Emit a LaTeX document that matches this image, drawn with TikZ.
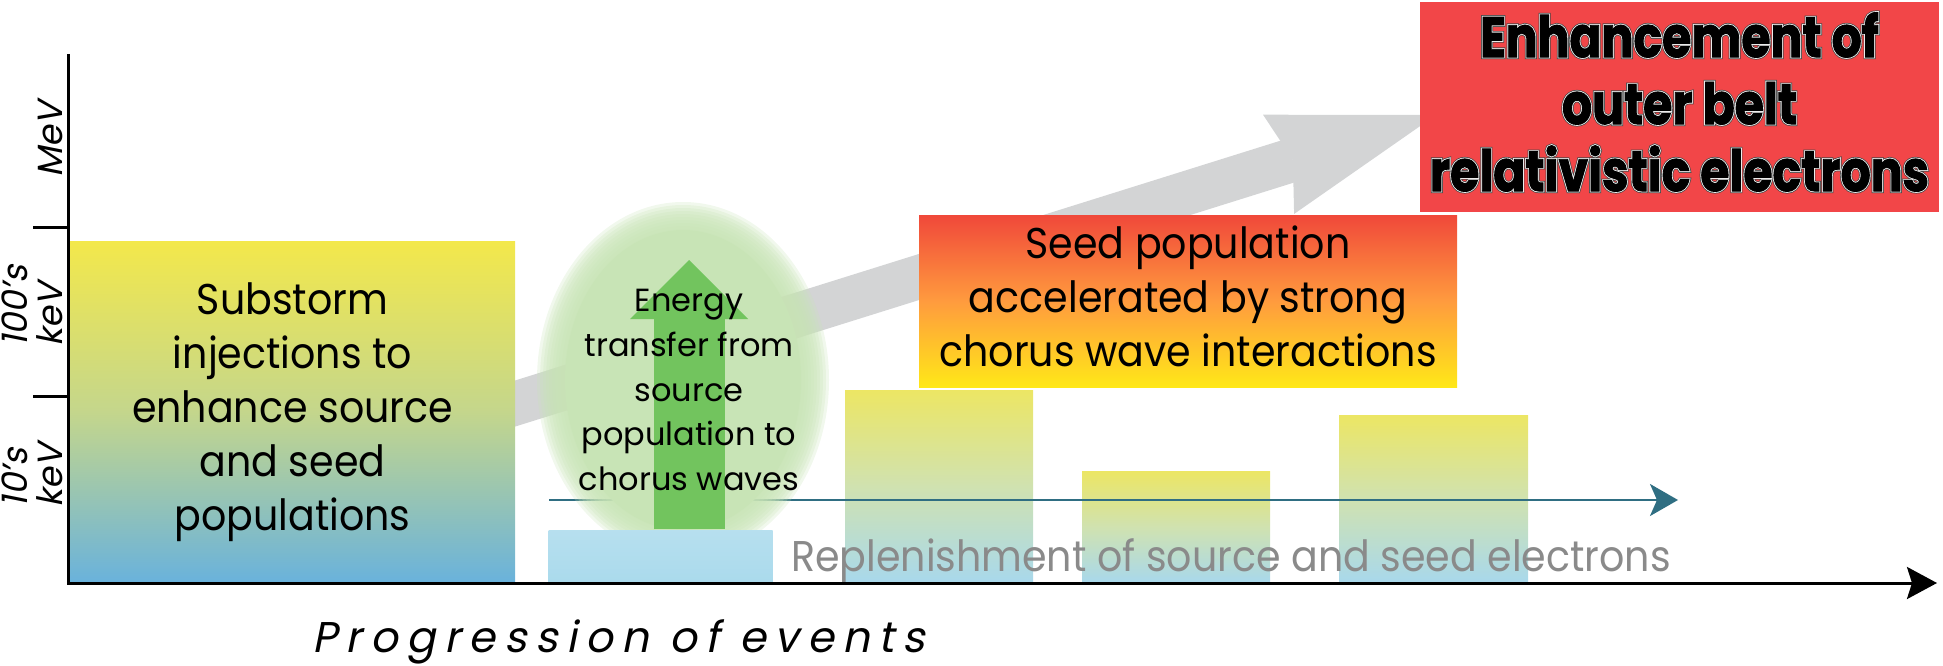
\documentclass[tikz,border=0pt]{standalone}
\usepackage{fontspec}
\setmainfont{Poppins}[FakeStretch=0.92]
\newfontfamily\energyfont{Poppins}
\newfontfamily\oblfont{Poppins}[FakeSlant=0.2]
\newfontfamily\progfont{Poppins}[FakeSlant=0.2,LetterSpace=20]
\newfontfamily\hvyfont{Poppins}[FakeStretch=0.83,FakeBold=1.5]
\newfontfamily\hvyhalo{Poppins}[FakeStretch=0.83,FakeBold=7]
\newfontfamily\hvyrim{Poppins}[FakeStretch=0.83,FakeBold=4.5]
\usetikzlibrary{arrows.meta}

\definecolor{boxyellow}{RGB}{243,232,75}
\definecolor{boxmid}{RGB}{196,214,140}
\definecolor{boxblue}{RGB}{105,178,220}
\definecolor{baryellow}{RGB}{236,230,100}
\definecolor{barmid}{RGB}{208,226,176}
\definecolor{barblue}{RGB}{168,216,236}
\definecolor{lightblue}{RGB}{170,218,236}
\definecolor{arrowgray}{RGB}{211,212,213}
\definecolor{glowgreen}{RGB}{200,228,182}
\definecolor{arrowgreen}{RGB}{114,196,94}
\definecolor{tealline}{RGB}{47,110,130}
\definecolor{seedred}{RGB}{240,72,58}
\definecolor{seedorange}{RGB}{255,155,62}
\definecolor{seedyellow}{RGB}{255,232,24}
\definecolor{enhred}{RGB}{242,70,72}
\definecolor{replgray}{RGB}{138,138,138}
\definecolor{halogray}{RGB}{70,70,70}

\tikzset{
  mainfont/.style={font={\fontsize{43}{54}\selectfont}},
  leftbox/.style={inner sep=0pt, minimum width=445pt, minimum height=342pt,
    top color=boxyellow, bottom color=boxblue, middle color=boxmid, align=center, mainfont},
  barbox/.style={inner sep=0pt, top color=baryellow, bottom color=barblue, middle color=barmid},
  bluebox/.style={inner sep=0pt, top color=lightblue!85!white, bottom color=lightblue},
  seedbox/.style={inner sep=0pt, minimum width=538pt, minimum height=172pt,
    top color=seedred, bottom color=seedyellow, middle color=seedorange},
  enhbox/.style={inner sep=0pt, minimum width=519pt, minimum height=210pt, fill=enhred},
  enhtext/.style={align=center, inner sep=0pt},
  glowlayer/.style={fill=glowgreen, fill opacity=0.25},
  glowsolid/.style={fill=glowgreen},
  grayarrow/.style={draw=arrowgray, line width=44pt,
    -{Stealth[length=165pt,width=104pt,inset=15pt,line width=0pt,fill=arrowgray]}},
  greenarrow/.style={draw=arrowgreen, line width=71pt,
    -{Triangle[length=59pt,width=118pt,line width=0pt,fill=arrowgreen]}},
  tealarrow/.style={draw=tealline, line width=2.5pt,
    -{Stealth[length=28pt,width=32pt,inset=7pt]}},
  axisline/.style={draw=black, line width=3pt, line join=miter,
    -{Stealth[length=30pt,width=32pt,inset=5pt]}},
  tickline/.style={draw=black, line width=3pt},
  axislabel/.style={rotate=90, align=left, inner sep=0pt,
    font={\oblfont\fontsize{35}{35}\selectfont}},
}

\begin{document}
\begin{tikzpicture}[x=1pt,y=-1pt]
\useasboundingbox (0,0) rectangle (1943,666);

% big gray arrow (behind boxes)
\coordinate (gtail) at (490,411.4);
\coordinate (gtip) at (1436,115);
\draw[grayarrow] (gtail) -- (gtip);

% substorm box
\node[leftbox] (inj) at (292.5,412) {Substorm\\injections to\\enhance source\\and seed\\populations};

% bars
\node[barbox, minimum width=188pt, minimum height=193pt] (bar1) at (939,486.5) {};
\node[barbox, minimum width=188pt, minimum height=112pt] (bar2) at (1176,527) {};
\node[barbox, minimum width=189pt, minimum height=168pt] (bar3) at (1433.5,499) {};

% teal replenishment arrow
\coordinate (tstart) at (549,500);
\coordinate (tend) at (1678,500);
\draw[tealarrow] (tstart) -- (tend);

% green glow (opaque core, soft edge from stacked translucent ellipses)
\coordinate (glowc) at (683,380);
\foreach \k in {0,...,9} {
  \fill[glowlayer] (glowc) ellipse [x radius={146-3*\k}, y radius={178-3*\k}];
}
\fill[glowsolid] (glowc) ellipse [x radius=118, y radius=150];

% small source box
\node[bluebox, minimum width=224pt, minimum height=53pt] (src) at (660.5,556.5) {};

% green up arrow
\coordinate (gbot) at (689,529);
\coordinate (gtop) at (689,260);
\draw[greenarrow] (gbot) -- (gtop);

\node[align=center, inner sep=0pt, font={\energyfont\fontsize{32}{44.7}\selectfont}] (energy) at (689,390)
  {Energy\\transfer from\\source\\population to\\chorus waves};

% seed population box
\node[seedbox] (seed) at (1188,301) {};
\node[align=center, inner sep=0pt, mainfont] (seedtext) at ([yshift=5pt]seed.center)
  {Seed population\\accelerated by strong\\chorus wave interactions};

% enhancement box
\node[enhbox] (enh) at (1679.5,107) {};
\node[enhtext, text=halogray, font={\hvyhalo\bfseries\fontsize{57}{67}\selectfont}] (enhh) at ([yshift=5pt]enh.center)
  {Enhancement of\\outer belt\\relativistic electrons};
\node[enhtext, text=white!85!gray, font={\hvyrim\bfseries\fontsize{57}{67}\selectfont}] (enhr) at ([yshift=5pt]enh.center)
  {Enhancement of\\outer belt\\relativistic electrons};
\node[enhtext, text=black, font={\hvyfont\bfseries\fontsize{57}{67}\selectfont}] (enht) at ([yshift=5pt]enh.center)
  {Enhancement of\\outer belt\\relativistic electrons};

% replenishment label
\node[anchor=base, inner sep=0pt, text=replgray, font={\fontsize{43}{43}\selectfont}] (repl) at (1231,571)
  {Replenishment of source and seed electrons};

% axes
\coordinate (ytop) at (68,54);
\coordinate (origin) at (68,583);
\coordinate (xend) at (1937,583);
\draw[axisline] (ytop) -- (origin) -- (xend);
\coordinate (t1a) at (33,227);
\coordinate (t1b) at (68,227);
\coordinate (t2a) at (33,396);
\coordinate (t2b) at (68,396);
\draw[tickline] (t1a) -- (t1b);
\draw[tickline] (t2a) -- (t2b);

\node[axislabel] (mev) at (50,140) {MeV};
\node[axislabel] (hkev) at (32,306) {100’s\\keV};
\node[axislabel] (tkev) at (32,475.5) {10’s\\keV};

\node[anchor=base west, inner sep=0pt, font={\progfont\fontsize{43}{43}\selectfont}] (prog) at (312,652)
  {Progression of events};
\end{tikzpicture}
\end{document}
